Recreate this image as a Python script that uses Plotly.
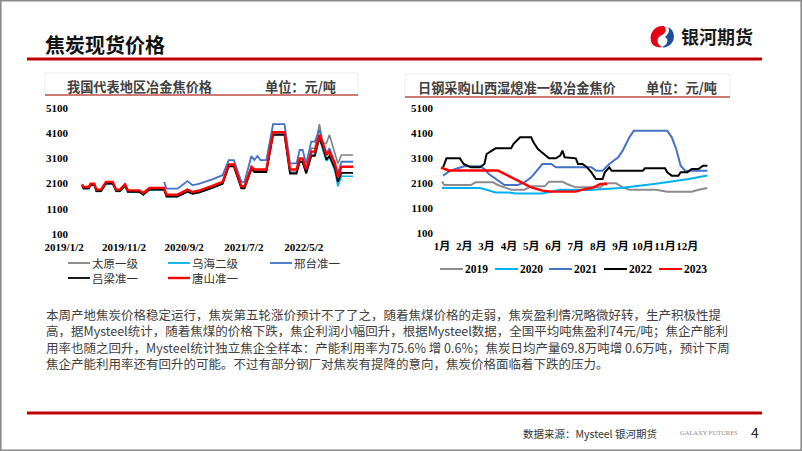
import plotly.graph_objects as go

W, H = 802, 451
def fx(x): return x / W
def fy(y): return 1 - y / H

# ---------------- Left chart data (元/吨) ----------------
left_dates = ["2019-01-02", "2019-01-09", "2019-02-05", "2019-02-14", "2019-03-05", "2019-03-15",
              "2019-04-08", "2019-05-03", "2019-06-06", "2019-06-24", "2019-07-12", "2019-08-08",
              "2019-08-22", "2019-10-20", "2019-11-08", "2019-12-10", "2020-02-22", "2020-03-05",
              "2020-04-30", "2020-06-20", "2020-07-15", "2020-08-20", "2020-10-20", "2020-12-15",
              "2021-01-15", "2021-02-10", "2021-03-20", "2021-04-05", "2021-05-10", "2021-05-25",
              "2021-06-10", "2021-06-25", "2021-07-25", "2021-08-28", "2021-10-25", "2021-11-22",
              "2021-12-25", "2022-01-10", "2022-01-25", "2022-02-12", "2022-03-10", "2022-03-28",
              "2022-04-20", "2022-05-08", "2022-05-26", "2022-06-10", "2022-07-08", "2022-07-23",
              "2022-08-10", "2022-10-08"]
tangshan = [2073, 1967, 1967, 2100, 2100, 1860, 1860, 2167, 2167, 1860, 1860, 2073, 1833, 1833,
            1727, 1927, 1927, 1660, 1660, 1860, 1767, 1833, 2000, 2167, 2860, 2860, 1993, 1993,
            2767, 2660, 2660, 2660, 2660, 4140, 4140, 2660, 2660, 3100, 3100, 2660, 3367, 3367,
            4033, 3700, 3233, 3367, 2900, 2367, 2767, 2767]
lvliang = [2020, 1910, 1910, 2040, 2040, 1800, 1800, 2100, 2100, 1800, 1800, 2010, 1770, 1770,
           1660, 1860, 1860, 1580, 1580, 1780, 1690, 1750, 1920, 2090, 2780, 2780, 1910, 1910,
           2680, 2560, 2560, 2560, 2560, 4033, 4033, 2500, 2500, 2950, 2950, 2500, 3200, 3200,
           3900, 3550, 3050, 3200, 2700, 2167, 2527, 2527]
taiyuan = [2050, 1940, 1940, 2070, 2070, 1830, 1830, 2130, 2130, 1830, 1830, 2040, 1800, 1800,
           1690, 1890, 1890, 1620, 1620, 1820, 1730, 1790, 1960, 2130, 2820, 2820, 1950, 1950,
           2720, 2610, 2610, 2610, 2610, 4080, 4080, 2560, 2560, 3020, 3020, 2560, 3500, 3500,
           4460, 3700, 3700, 4033, 3300, 2900, 3233, 3233]
wuhai = [2000, 1900, 1900, 2030, 2030, 1790, 1790, 2090, 2090, 1790, 1790, 2000, 1760, 1760,
         1650, 1850, 1850, 1590, 1590, 1790, 1700, 1760, 1930, 2100, 2790, 2790, 1920, 1920,
         2690, 2580, 2580, 2580, 2580, 4050, 4050, 2530, 2530, 2980, 2980, 2530, 3250, 3250,
         3950, 3400, 3000, 3150, 2600, 1993, 2393, 2393]
xingtai = [None] * 16 + [2167, 1900, 1900, 2200, 2033, 2100, 2260, 2433, 3033, 3033, 2167, 2167,
                         3193, 3033, 3193, 3033, 3033, 4460, 4460, 2900, 2900, 3433, 3433, 2900,
                         3767, 3767, 4233, 3700, 3300, 3500, 2900, 2500, 2967, 2967]
left_names = ["太原一级", "乌海二级", "邢台准一", "吕梁准一", "唐山准一"]
left_series = [taiyuan, wuhai, xingtai, lvliang, tangshan]
left_colors = ["#808080", "#00B0F0", "#4472C4", "#000000", "#FF0000"]
left_widths = [1.6, 1.6, 1.8, 1.8, 2.4]
left_tickvals = ["2019-01-02", "2019-11-02", "2020-09-02", "2021-07-02", "2022-05-02"]
left_ticktext = ["2019/1/2", "2019/11/2", "2020/9/2", "2021/7/2", "2022/5/2"]
y_ticks = [100, 1100, 2100, 3100, 4100, 5100]

# ---------------- Right chart data (month position, 元/吨) ----------------
t2019 = [0, 0.1, 1.3, 1.5, 2.3, 2.5, 2.8, 3.1, 3.7, 4.0, 4.6, 4.8, 5.4, 5.6, 6.0, 7.1, 7.3,
         7.8, 8.1, 8.4, 9.6, 10.1, 11.2, 11.5, 11.9]
v2019 = [2153, 2020, 2020, 2127, 2127, 2020, 1927, 1833, 1833, 1967, 1967, 2153, 2153, 2060,
         1927, 1927, 2087, 2087, 1927, 1833, 1833, 1753, 1753, 1833, 1900]
t2020 = [0, 1.7, 2.0, 2.4, 3.0, 3.3, 4.5, 4.9, 5.3, 6.6, 8.0, 9.5, 11.0, 11.9]
v2020 = [1900, 1900, 1830, 1720, 1720, 1680, 1680, 1760, 1830, 1820, 1900, 2060, 2250, 2400]
t2021 = [0.05, 0.3, 0.6, 1.0, 1.7, 1.9, 2.1, 2.4, 2.8, 3.4, 3.7, 4.0, 4.2, 4.5, 4.9, 5.1, 6.7,
         6.9, 7.2, 7.5, 7.9, 8.1, 8.4, 8.6, 10.1, 10.3, 10.5, 10.7, 10.9, 11.9]
v2021 = [2393, 2553, 2660, 2767, 2767, 2660, 2460, 2260, 2020, 2020, 2127, 2327, 2553, 2860,
         2860, 2727, 2727, 2593, 2593, 2860, 3127, 3393, 3927, 4193, 4193, 3927, 3460, 2793,
         2593, 2593]
t2022 = [0.05, 0.2, 0.8, 0.97, 1.3, 1.7, 1.9, 2.0, 2.4, 3.1, 3.2, 3.5, 4.0, 4.1, 4.3, 4.5,
         4.8, 5.1, 5.3, 5.4, 5.5, 6.0, 6.1, 6.3, 6.5, 6.7, 6.9, 7.2, 7.3, 7.5, 7.6, 9.0, 9.1,
         10.0, 10.1, 10.3, 10.6, 10.7, 11.0, 11.2, 11.5, 11.7, 11.9]
v2022 = [2727, 3087, 3087, 2860, 2727, 2727, 2860, 3260, 3487, 3487, 3660, 3927, 3927, 3727,
         3460, 3300, 3087, 3087, 3193, 3393, 3127, 3087, 2860, 2860, 2727, 2527, 2260, 2260,
         2527, 2727, 2593, 2593, 2687, 2687, 2527, 2393, 2393, 2527, 2527, 2660, 2660, 2793,
         2793]
t2023 = [-0.05, 0.2, 0.3, 2.5, 2.8, 3.3, 3.7, 4.0, 4.5, 4.9, 6.0, 6.3, 6.8, 7.1, 7.4]
v2023 = [2713, 2620, 2600, 2600, 2460, 2260, 2060, 1927, 1793, 1753, 1753, 1833, 1927, 2060, 2060]
right_names = ["2019", "2020", "2021", "2022", "2023"]
right_t = [t2019, t2020, t2021, t2022, t2023]
right_v = [v2019, v2020, v2021, v2022, v2023]
right_colors = ["#8C8C8C", "#00B0F0", "#4472C4", "#000000", "#FF0000"]
right_widths = [2.0, 2.0, 2.0, 2.0, 2.4]
months = ["1月", "2月", "3月", "4月", "5月", "6月", "7月", "8月", "9月", "10月", "11月", "12月"]

paragraph = [
    "本周产地焦炭价格稳定运行，焦炭第五轮涨价预计不了了之，随着焦煤价格的走弱，焦炭盈利情况略微好转，生产积极性提",
    "高，据Mysteel统计，随着焦煤的价格下跌，焦企利润小幅回升，根据Mysteel数据，全国平均吨焦盈利74元/吨；焦企产能利",
    "用率也随之回升，Mysteel统计独立焦企全样本：产能利用率为75.6% 增 0.6%；焦炭日均产量69.8万吨增 0.6万吨，预计下周",
    "焦企产能利用率还有回升的可能。不过有部分钢厂对焦炭有提降的意向，焦炭价格面临着下跌的压力。",
]

SANS = "Noto Sans CJK SC, Noto Sans, sans-serif"
SERIF = "Liberation Serif, Noto Sans CJK SC, serif"

fig = go.Figure()
for name, vals, col, w in zip(left_names, left_series, left_colors, left_widths):
    fig.add_trace(go.Scatter(x=left_dates, y=vals, name=name, mode="lines",
                             line=dict(color=col, width=w), xaxis="x", yaxis="y",
                             showlegend=False, connectgaps=False))
for name, t, v, col, w in zip(right_names, right_t, right_v, right_colors, right_widths):
    fig.add_trace(go.Scatter(x=t, y=v, name=name, mode="lines",
                             line=dict(color=col, width=w), xaxis="x2", yaxis="y2",
                             showlegend=False))

tickfont = dict(family=SERIF, size=11, color="#000000", weight="bold")
fig.update_layout(
    width=W, height=H, margin=dict(l=0, r=0, t=0, b=0, autoexpand=False),
    paper_bgcolor="white", plot_bgcolor="white", showlegend=False,
    xaxis=dict(domain=[fx(78), fx(358)], type="date", range=["2018-12-12", "2022-11-02"],
               tickmode="array", tickvals=left_tickvals, ticktext=left_ticktext, tickangle=0,
               showgrid=False, zeroline=False, showline=False, ticks="", tickfont=tickfont,
               anchor="y", ticklabelstandoff=5, ticklabelshift=-18),
    yaxis=dict(domain=[fy(234), fy(108)], range=[100, 5100], tickmode="array",
               tickvals=y_ticks, showgrid=False, zeroline=False, showline=False, ticks="",
               tickfont=tickfont, anchor="x", ticklabelstandoff=9),
    xaxis2=dict(domain=[fx(438), fx(715)], range=[-0.18, 12.24], tickmode="array",
                tickvals=list(range(12)), ticktext=months, tickangle=0, showgrid=False,
                zeroline=False, showline=False, ticks="", tickfont=tickfont, anchor="y2",
                ticklabelstandoff=5),
    yaxis2=dict(domain=[fy(233), fy(108)], range=[100, 5100], tickmode="array",
                tickvals=y_ticks, showgrid=False, zeroline=False, showline=False, ticks="",
                tickfont=tickfont, anchor="x2", ticklabelstandoff=4),
)

shapes = []
annots = []

def hline(x0, x1, y, color, width):
    shapes.append(dict(type="line", xref="paper", yref="paper", x0=fx(x0), x1=fx(x1),
                       y0=fy(y), y1=fy(y), line=dict(color=color, width=width)))

def text(x, y, s, size, color, family=SANS, xanchor="left", weight="normal", yanchor="middle"):
    annots.append(dict(xref="paper", yref="paper", x=fx(x), y=fy(y), text=s, showarrow=False,
                       xanchor=xanchor, yanchor=yanchor, align="left", borderpad=0,
                       font=dict(family=family, size=size, color=color, weight=weight)))

# slide frame
shapes.append(dict(type="rect", xref="paper", yref="paper", x0=fx(0.8), x1=fx(801.2),
                   y0=fy(450.2), y1=fy(0.8), line=dict(color="#8A8A8A", width=1.6)))
# header
text(44, 45, "焦炭现货价格", 20, "#111111", weight="bold")
hline(27, 762, 59, "#C00000", 3)
# logo
def ppath(cmds):
    out = []
    for c in cmds:
        if isinstance(c, str):
            out.append(c)
        else:
            out.append("%f,%f" % (fx(c[0]), fy(c[1])))
    return " ".join(out)
shapes.append(dict(type="path", xref="paper", yref="paper",
                   path=ppath(["M", (664, 26), "C", (655, 25), (649, 33), (651, 41), "C", (652, 46),
                               (657, 48), (662, 47), "C", (656, 44), (656, 37), (662, 35), "C",
                               (666, 33), (667, 29), (664, 26), "Z"]),
                   fillcolor="#E60012", line=dict(width=0)))
shapes.append(dict(type="path", xref="paper", yref="paper",
                   path=ppath(["M", (668, 27), "C", (675, 30), (676, 40), (670, 45), "C", (667, 47),
                               (664, 48), (662, 47), "C", (668, 45), (669, 39), (665, 37), "C",
                               (669, 34), (670, 30), (668, 27), "Z"]),
                   fillcolor="#1D4E9E", line=dict(width=0)))
text(680, 36, "银河期货", 18, "#1a1a1a", weight="bold")

# panel titles
shapes.append(dict(type="rect", xref="paper", yref="paper", x0=fx(45), x1=fx(358),
                   y0=fy(95), y1=fy(73), line=dict(color="#EDEDED", width=1)))
hline(45, 358, 95, "#C0504D", 1.5)
text(66, 86, "我国代表地区冶金焦价格", 13.2, "#404040", weight="bold")
text(264, 86, "单位：元/吨", 13.2, "#404040", weight="bold")
shapes.append(dict(type="rect", xref="paper", yref="paper", x0=fx(405), x1=fx(730),
                   y0=fy(97), y1=fy(74), line=dict(color="#EDEDED", width=1)))
hline(405, 730, 97, "#C0504D", 1.5)
text(417, 88, "日钢采购山西湿熄准一级冶金焦价", 13.2, "#404040", weight="bold")
text(645, 88, "单位：元/吨", 13.2, "#404040", weight="bold")

# left legend (manual)
left_leg_pos = [(68, 263), (168, 263), (270, 263), (68, 278), (168, 278)]
for (lx, ly), name, col, w in zip(left_leg_pos, left_names, left_colors, left_widths):
    hline(lx, lx + 22, ly, col, max(w, 1.8))
    text(lx + 23, ly, name, 11.5, "#333333")
# right legend (manual)
right_leg_x = [440, 495, 549, 604, 659]
for lx, name, col in zip(right_leg_x, right_names, right_colors):
    hline(lx, lx + 23, 269, col, 2)
    text(lx + 24, 269, name, 11.5, "#000000", family=SERIF, weight="bold")

# paragraph (one text block)
text(45, 304, "<br>".join(paragraph), 12.5, "#404040", yanchor="top")

# footer
hline(27, 762, 413, "#C00000", 3)
text(590, 433, "数据来源：Mysteel 银河期货", 10.5, "#333333", xanchor="center")
text(709, 432, "GALAXY FUTURES", 6.5, "#888888", family=SERIF, xanchor="center")
text(755, 432, "4", 14, "#222222", xanchor="center")

fig.update_layout(shapes=shapes, annotations=annots)
post = ("document.documentElement.style.margin='0';document.body.style.margin='0';"
        "document.body.style.padding='0';document.documentElement.style.overflow='hidden';"
        "var gd=document.getElementById('{plot_id}');gd.style.position='fixed';"
        "gd.style.left='0px';gd.style.top='0px';")
fig.write_html("out.html", config={"displayModeBar": False}, post_script=post)
